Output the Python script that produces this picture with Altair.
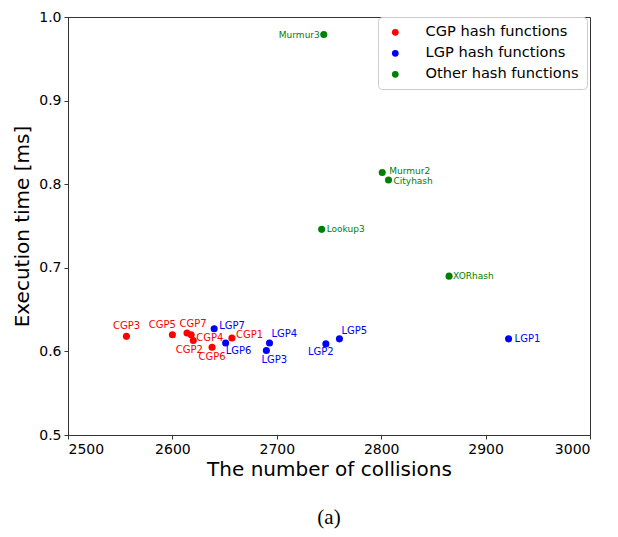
import altair as alt
import pandas as pd

# ---- data ----
cgp_names = ["CGP1", "CGP2", "CGP3", "CGP4", "CGP5", "CGP6", "CGP7"]
cgp_collisions = [2657, 2620, 2556, 2618, 2600, 2638, 2614]
cgp_time = [0.616, 0.613, 0.618, 0.620, 0.620, 0.605, 0.622]

lgp_names = ["LGP1", "LGP2", "LGP3", "LGP4", "LGP5", "LGP6", "LGP7"]
lgp_collisions = [2922, 2747, 2690, 2693, 2760, 2651, 2640]
lgp_time = [0.615, 0.609, 0.601, 0.610, 0.615, 0.610, 0.627]

other_names = ["Murmur3", "Murmur2", "Cityhash", "Lookup3", "XORhash"]
other_collisions = [2745, 2801, 2807, 2743, 2865]
other_time = [0.979, 0.814, 0.805, 0.746, 0.690]

groups = ["CGP hash functions", "LGP hash functions", "Other hash functions"]
colors = ["#ff0000", "#0000ff", "#008000"]

rows = []
for g, names, xs, ys in [
    (groups[0], cgp_names, cgp_collisions, cgp_time),
    (groups[1], lgp_names, lgp_collisions, lgp_time),
    (groups[2], other_names, other_collisions, other_time),
]:
    for n, x, y in zip(names, xs, ys):
        rows.append({"name": n, "collisions": x, "time": y, "group": g})
df = pd.DataFrame(rows)

# label placement (style): dx, dy, align
label_style = {
    "CGP1": (4, -3, "left"), "CGP2": (-4, 9, "center"), "CGP3": (0, -10, "center"),
    "CGP4": (5, 3, "left"), "CGP5": (-10, -10, "center"), "CGP6": (0, 10, "center"),
    "CGP7": (6, -9, "center"),
    "LGP1": (6, 0, "left"), "LGP2": (-5, 8, "center"), "LGP3": (8, 9, "center"),
    "LGP4": (2, -9, "left"), "LGP5": (2, -8, "left"), "LGP6": (0, 8, "left"),
    "LGP7": (5, -3, "left"),
    "Murmur3": (-4, 0, "right"), "Murmur2": (7, -1, "left"), "Cityhash": (5, 1, "left"),
    "Lookup3": (5, 0, "left"), "XORhash": (4, 0, "left"),
}

FONT = "DejaVu Sans"

xscale = alt.Scale(domain=[2500, 3000], nice=False, zero=False)
yscale = alt.Scale(domain=[0.5, 1.0], nice=False, zero=False)
cscale = alt.Scale(domain=groups, range=colors)

X = alt.X("collisions:Q", scale=xscale,
          axis=alt.Axis(values=[2500, 2600, 2700, 2800, 2900, 3000], title="The number of collisions",
                        format="d", grid=False))
Y = alt.Y("time:Q", scale=yscale,
          axis=alt.Axis(values=[0.5, 0.6, 0.7, 0.8, 0.9, 1.0], title="Execution time [ms]",
                        format=".1f", grid=False))

points = alt.Chart(df).mark_circle(size=50, opacity=1).encode(
    x=X, y=Y,
    color=alt.Color("group:N", scale=cscale,
                    legend=alt.Legend(title=None, orient="none", legendX=310, legendY=0)),
)

layers = [points]
for n in df["name"]:
    dx, dy, al = label_style[n]
    sub = df[df["name"] == n]
    is_other = sub["group"].iloc[0] == groups[2]
    layers.append(
        alt.Chart(sub).mark_text(dx=dx, dy=dy, align=al, baseline="middle",
                                 fontSize=9 if is_other else 10, font=FONT).encode(
            x="collisions:Q", y="time:Q", text="name:N",
            color=alt.Color("group:N", scale=cscale, legend=None),
        )
    )

chart = alt.layer(*layers).properties(
    width=522, height=418,
    autosize=alt.AutoSizeParams(type="none"),
    padding={"left": 60, "top": 9, "right": 20, "bottom": 100},
    title=alt.TitleParams(text="(a)", orient="bottom", font="Liberation Serif", fontSize=21,
                          fontWeight="normal", color="black", offset=28, anchor="middle"),
).configure_view(stroke="#333333", strokeWidth=1).configure_axis(
    labelFont=FONT, titleFont=FONT, labelFontSize=14, titleFontSize=20,
    titleFontWeight="normal", labelColor="black", titleColor="black",
    domainColor="#333333", tickColor="#333333", tickSize=4, labelPadding=3,
).configure_axisX(titlePadding=3).configure_axisY(titlePadding=6).configure_legend(
    labelFont=FONT, labelFontSize=14.6, labelColor="black", symbolSize=45, symbolType="circle",
    padding=8, strokeColor="#cccccc", cornerRadius=4, fillColor="white", rowPadding=6,
    labelOffset=23, symbolOffset=2,
)

chart.save("out.html", embed_options={"renderer": "svg", "actions": False})
